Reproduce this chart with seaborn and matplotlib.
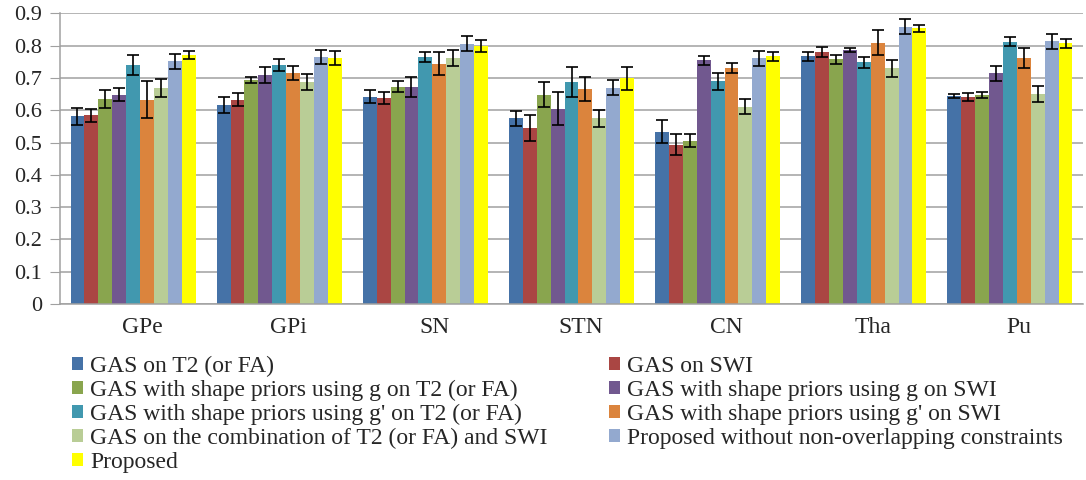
import matplotlib
matplotlib.use("Agg")
import matplotlib.pyplot as plt
import matplotlib.transforms as mtransforms
from matplotlib.patches import Patch
import seaborn as sns
import pandas as pd
import numpy as np

categories = ["GPe", "GPi", "SN", "STN", "CN", "Tha", "Pu"]
series_names = [
    "GAS on T2 (or FA)",
    "GAS on SWI",
    "GAS with shape priors using g on T2 (or FA)",
    "GAS with shape priors using g on SWI",
    "GAS with shape priors using g' on T2 (or FA)",
    "GAS with shape priors using g' on SWI",
    "GAS on the combination of T2 (or FA) and SWI",
    "Proposed without non-overlapping constraints",
    "Proposed",
]
colors = ["#4572A7", "#AA4643", "#89A54E", "#71588F", "#4198AF",
          "#DB843D", "#B9CD96", "#93A9CF", "#FFFF00"]

gas_t2 = [0.581, 0.615, 0.642, 0.575, 0.534, 0.767, 0.644]
gas_swi = [0.584, 0.633, 0.638, 0.544, 0.493, 0.781, 0.640]
gas_g_t2 = [0.635, 0.693, 0.673, 0.648, 0.506, 0.757, 0.647]
gas_g_swi = [0.648, 0.709, 0.673, 0.605, 0.754, 0.786, 0.714]
gas_gp_t2 = [0.741, 0.741, 0.764, 0.687, 0.690, 0.748, 0.812]
gas_gp_swi = [0.633, 0.715, 0.744, 0.666, 0.730, 0.809, 0.761]
gas_comb = [0.669, 0.687, 0.761, 0.575, 0.611, 0.730, 0.651]
prop_noov = [0.751, 0.764, 0.806, 0.670, 0.761, 0.859, 0.813]
proposed = [0.770, 0.761, 0.799, 0.699, 0.767, 0.854, 0.807]

err_gas_t2 = [0.027, 0.025, 0.020, 0.024, 0.037, 0.014, 0.007]
err_gas_swi = [0.019, 0.021, 0.019, 0.040, 0.032, 0.016, 0.013]
err_gas_g_t2 = [0.028, 0.010, 0.016, 0.038, 0.020, 0.015, 0.009]
err_gas_g_swi = [0.021, 0.025, 0.031, 0.051, 0.014, 0.006, 0.024]
err_gas_gp_t2 = [0.031, 0.019, 0.015, 0.046, 0.026, 0.017, 0.014]
err_gas_gp_swi = [0.056, 0.022, 0.036, 0.038, 0.016, 0.038, 0.031]
err_gas_comb = [0.027, 0.024, 0.024, 0.026, 0.024, 0.026, 0.025]
err_prop_noov = [0.022, 0.022, 0.023, 0.022, 0.023, 0.022, 0.023]
err_proposed = [0.013, 0.022, 0.019, 0.036, 0.014, 0.011, 0.014]

values = [gas_t2, gas_swi, gas_g_t2, gas_g_swi, gas_gp_t2, gas_gp_swi,
          gas_comb, prop_noov, proposed]
errors = [err_gas_t2, err_gas_swi, err_gas_g_t2, err_gas_g_swi, err_gas_gp_t2,
          err_gas_gp_swi, err_gas_comb, err_prop_noov, err_proposed]

rows = []
for name, vals, errs in zip(series_names, values, errors):
    for c, v, e in zip(categories, vals, errs):
        rows.append({"region": c, "method": name, "dice": v, "err": e})
df = pd.DataFrame(rows)

sns.set_style("white")
plt.rcParams["font.family"] = ["Liberation Serif", "DejaVu Serif"]

fig = plt.figure(figsize=(10.86, 4.80), dpi=100)
ax = fig.add_axes([60 / 1086, 1 - 304 / 480, 1023 / 1086, (304 - 13.3) / 480])

sns.barplot(data=df, x="region", y="dice", hue="method", order=categories,
            hue_order=series_names, palette=colors, width=0.856,
            errorbar=None, saturation=1, ax=ax, legend=False,
            edgecolor="none", linewidth=0)

for container, errs in zip(ax.containers, errors):
    xs = [b.get_x() + b.get_width() / 2 for b in container]
    hs = [b.get_height() for b in container]
    ax.errorbar(xs, hs, yerr=errs, fmt="none", ecolor="black",
                elinewidth=1.2, capsize=4.2, capthick=1.2, zorder=5)

ax.set_xlim(-0.5, 6.5)
ax.set_ylim(0, 0.9)
ticks = np.arange(0, 0.91, 0.1)
ax.set_yticks(ticks)
ax.set_yticklabels(["0" if t < 1e-9 else ("%.1f" % t) for t in ticks])
ax.yaxis.grid(True, color="#a0a0a0", linewidth=1.1)
ax.set_axisbelow(True)
ax.set_xlabel("")
ax.set_ylabel("")
for s in ["top", "right"]:
    ax.spines[s].set_visible(False)
ax.spines["left"].set_color("#a0a0a0")
ax.spines["bottom"].set_color("#a0a0a0")
ax.spines["left"].set_linewidth(1.1)
ax.spines["bottom"].set_linewidth(1.1)
ax.tick_params(axis="y", left=True, length=7, color="#a0a0a0", labelsize=16,
               pad=6)
ax.tick_params(axis="x", bottom=False, labelsize=17, pad=6)

offset = mtransforms.ScaledTranslation(9 / 100, 0, fig.dpi_scale_trans)
for lab in ax.get_xticklabels():
    lab.set_transform(lab.get_transform() + offset)

handles = [Patch(facecolor=c, edgecolor="none") for c in colors]
order = [0, 2, 4, 6, 8, 1, 3, 5, 7]
leg = fig.legend([handles[i] for i in order], [series_names[i] for i in order],
                 ncol=2, loc="upper left", bbox_to_anchor=(72 / 1086, 1 - 356 / 480),
                 frameon=False, fontsize=17, handlelength=0.47, handleheight=0.47,
                 handletextpad=0.3, labelspacing=0.12, borderpad=0,
                 borderaxespad=0, columnspacing=2.6)

fig.savefig("out.png", dpi=100)
